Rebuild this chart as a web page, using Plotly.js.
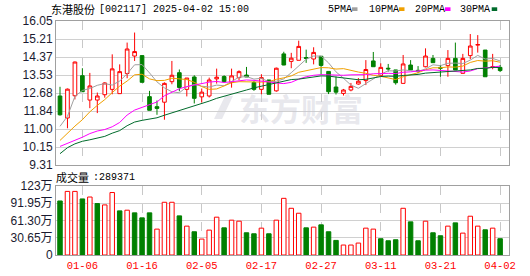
<!DOCTYPE html>
<html>
<head>
<meta charset="utf-8">
<script src="https://cdn.plot.ly/plotly-3.0.1.min.js"></script>
<style>
html,body{margin:0;padding:0;background:#fff;}
#chart{width:530px;height:276px;}
</style>
</head>
<body>
<div id="chart"></div>
<script>
// ---- data ----
const dates = ["12-31","01-02","01-03","01-06","01-07","01-08","01-09","01-10","01-13","01-14",
  "01-15","01-16","01-17","01-20","01-21","01-22","01-23","01-24","01-27","02-05",
  "02-06","02-07","02-10","02-11","02-12","02-13","02-14","02-17","02-18","02-19",
  "02-20","02-21","02-24","02-25","02-26","02-27","02-28","03-03","03-04","03-05",
  "03-06","03-07","03-10","03-11","03-12","03-13","03-14","03-17","03-18","03-19",
  "03-20","03-21","03-24","03-25","03-26","03-27","03-28","03-31","04-01","04-02"];
const tickDates = ["01-06","01-16","02-05","02-17","02-27","03-11","03-21","04-02"];

const open  = [12.54,11.51,12.55,13.49,12.35,12.35,12.60,12.85,12.65,13.59,
  14.41,14.43,12.51,12.04,12.25,13.21,13.63,12.85,13.43,12.50,
  12.54,13.34,13.45,13.17,13.40,13.52,13.17,12.85,13.29,12.78,
  14.51,14.16,14.21,14.34,14.27,14.40,13.69,12.96,12.66,12.82,
  13.10,13.26,14.18,13.49,13.84,13.76,13.13,13.99,13.74,13.91,
  14.30,13.88,13.96,14.30,13.60,14.43,14.92,14.69,13.88,13.88];
const high  = [12.97,12.89,14.15,13.84,13.62,12.70,13.18,14.49,14.02,15.04,
  15.51,14.43,12.78,12.33,13.18,14.18,13.78,13.38,13.51,12.89,
  13.40,13.82,13.51,13.82,13.74,13.90,13.24,13.56,13.29,13.87,
  14.61,14.56,15.13,14.71,14.82,14.40,13.69,13.45,12.87,13.15,
  13.38,14.22,14.60,14.07,14.04,13.76,14.46,14.22,13.94,14.77,
  14.46,13.99,14.69,15.04,14.51,15.44,15.39,14.69,14.51,13.99];
const low   = [11.62,11.03,12.38,12.74,11.97,11.74,12.46,12.62,12.65,13.37,
  14.18,13.18,11.87,11.66,11.43,13.09,12.76,12.52,12.19,12.23,
  12.47,13.12,13.17,12.93,13.28,13.43,12.78,12.62,12.62,12.74,
  13.98,13.84,14.21,14.09,14.02,13.53,12.63,12.61,12.56,12.76,
  13.07,13.05,13.91,13.44,13.68,13.07,13.13,13.76,13.60,13.88,
  14.10,13.44,13.44,13.76,13.60,14.26,14.57,13.44,13.79,13.66];
const close = [11.66,12.86,14.13,12.74,13.01,12.54,13.15,13.81,13.68,14.74,
  14.62,13.18,11.87,11.96,13.13,13.51,12.94,13.38,12.43,12.72,
  13.29,13.42,13.21,13.48,13.68,13.43,12.85,13.40,12.62,13.84,
  13.99,14.31,14.86,14.30,14.58,13.97,12.74,12.72,12.82,12.99,
  13.23,13.78,13.91,13.88,13.81,13.16,14.04,13.76,13.70,14.41,
  14.10,13.84,14.30,13.76,14.30,14.88,14.95,13.44,13.91,13.73];

const ma5  = [11.12,11.59,12.52,12.80,12.89,13.04,13.12,13.05,13.24,13.58,
  14.00,14.01,13.62,13.20,12.92,12.74,12.69,12.97,13.08,13.00,
  12.96,13.05,13.02,13.23,13.42,13.45,13.33,13.37,13.20,13.23,
  13.34,13.63,13.93,14.26,14.41,14.41,14.09,13.67,13.37,13.05,
  12.90,13.11,13.35,13.56,13.72,13.71,13.76,13.73,13.69,13.81,
  14.00,13.96,14.07,14.08,14.06,14.22,14.44,14.27,14.30,14.18];
const ma10 = [10.46,10.80,11.13,11.43,11.80,12.10,12.37,12.70,13.00,13.24,
  13.53,13.56,13.34,13.26,13.27,13.37,13.35,13.31,13.18,12.98,
  12.85,12.87,13.01,13.16,13.21,13.20,13.19,13.19,13.21,13.32,
  13.39,13.48,13.65,13.73,13.82,13.87,13.86,13.80,13.82,13.73,
  13.66,13.60,13.51,13.46,13.39,13.31,13.44,13.54,13.63,13.77,
  13.86,13.86,13.90,13.89,13.94,14.11,14.20,14.17,14.19,14.12];
const ma20 = [10.18,10.32,10.47,10.61,10.78,10.90,10.97,11.10,11.30,11.65,
  11.88,12.01,12.12,12.26,12.55,12.72,12.88,12.98,13.05,13.11,
  13.19,13.22,13.17,13.21,13.24,13.29,13.27,13.25,13.20,13.15,
  13.12,13.18,13.33,13.44,13.51,13.54,13.53,13.49,13.51,13.53,
  13.52,13.54,13.58,13.60,13.60,13.59,13.65,13.67,13.72,13.75,
  13.76,13.73,13.70,13.68,13.66,13.71,13.82,13.85,13.91,13.94];
const ma30 = [9.84,10.12,10.30,10.42,10.49,10.57,10.65,10.80,10.92,11.15,
  11.32,11.40,11.45,11.52,11.64,11.75,11.85,11.95,12.05,12.17,
  12.30,12.43,12.52,12.63,12.72,12.82,12.92,13.00,13.08,13.18,
  13.26,13.31,13.33,13.38,13.43,13.48,13.47,13.43,13.40,13.35,
  13.30,13.32,13.39,13.45,13.47,13.46,13.50,13.51,13.55,13.61,
  13.63,13.65,13.68,13.69,13.71,13.76,13.83,13.83,13.88,13.87];

// volume in 万手
const volume = [96.0,113.0,113.0,99.6,103.0,91.4,89.0,111.0,78.4,79.6,
  74.9,66.0,74.9,46.0,93.7,93.7,69.5,51.3,41.3,28.3,
  44.2,67.2,48.3,61.9,60.1,39.5,37.7,47.7,37.7,61.9,
  100.7,83.0,74.2,48.3,49.5,53.6,41.3,25.9,17.7,17.7,
  21.2,47.7,46.0,28.9,25.3,27.1,83.0,58.9,25.3,60.1,
  39.5,34.2,51.3,57.1,38.9,68.9,51.3,44.8,47.7,28.9371];

const priceTicks = [9.31,10.1525,10.995,11.8375,12.68,13.5225,14.365,15.2075,16.05];
const priceTickText = ["9.31","10.15","11.00","11.84","12.68","13.53","14.37","15.21","16.05"];
const volTicks = [0,30.65,61.30,91.95,122.6];
const volTickText = ["0","30.65万","61.30万","91.95万","123万"];

const stockTitle = "东港股份";
const stockInfo = "[002117]\u00a02025-04-02\u00a015:00";
const volLabel = "成交量";
const volValue = ":289371";
const maNames = ["5PMA","10PMA","20PMA","30PMA"];
const watermark = "东方财富";

// ---- styles ----
const RED = "#ff0000", GREEN = "#008000";
const maColors = ["#a0a0a0","#f0a000","#ff00ff","#006b2b"];
const WM = "rgba(200,200,212,0.42)";
const L = 56, R = 509, T = 21, B = 255;
const W = R - L, H = B - T;
const px = x => (x - L) / W;
const py = y => (B - y) / H;

const volUp = volume.map((v, i) => i === 0 ? close[0] >= open[0] : close[i] >= close[i - 1]);

const traces = [
  {
    type: "candlestick", x: dates, open: open, high: high, low: low, close: close,
    xaxis: "x", yaxis: "y", whiskerwidth: 0,
    increasing: {line: {color: RED, width: 1}, fillcolor: "#ffffff"},
    decreasing: {line: {color: GREEN, width: 1}, fillcolor: GREEN},
    hoverinfo: "skip", showlegend: false
  }
];
[ma5, ma10, ma20, ma30].forEach((m, k) => {
  traces.push({type: "scatter", mode: "lines", x: dates, y: m, xaxis: "x", yaxis: "y",
    line: {color: maColors[k], width: 1}, hoverinfo: "skip", showlegend: false, name: maNames[k]});
});
traces.push({
  type: "bar", x: dates, y: volume, xaxis: "x2", yaxis: "y2",
  marker: {color: volUp.map(u => u ? "#ffffff" : GREEN),
           line: {color: volUp.map(u => u ? RED : GREEN), width: 1}},
  hoverinfo: "skip", showlegend: false
});

const frame = "#a0a0a0";
const xr = [-0.536, 60.19];
const annotations = [
  {text: stockTitle, x: px(97), y: py(9.5), xref: "paper", yref: "paper", xanchor: "right", yanchor: "middle",
   showarrow: false, font: {family: "Noto Sans CJK SC", size: 11, color: "#000"}},
  {text: stockInfo, x: px(97), y: py(9.5), xref: "paper", yref: "paper", xanchor: "left", yanchor: "middle",
   showarrow: false, font: {family: "Liberation Mono", size: 10, color: "#000"}},
  {text: volLabel, x: px(90.5), y: py(177), xref: "paper", yref: "paper", xanchor: "right", yanchor: "middle",
   showarrow: false, font: {family: "Noto Sans CJK SC", size: 11, color: "#000"}},
  {text: volValue, x: px(90.5), y: py(177), xref: "paper", yref: "paper", xanchor: "left", yanchor: "middle",
   showarrow: false, font: {family: "Liberation Mono", size: 10, color: "#000"}},
  {text: "<b>" + watermark + "</b>", x: px(301), y: py(107), xref: "paper", yref: "paper", xanchor: "center", yanchor: "middle",
   showarrow: false, font: {family: "Noto Sans CJK SC", size: 31, color: WM}}
];
const legendX = [325.7, 367, 412.7, 458];
const boxX = [352, 399, 445, 491.7];
const shapes = [];
maNames.forEach((n, k) => {
  annotations.push({text: n, x: px(legendX[k]), y: py(9.5), xref: "paper", yref: "paper",
    xanchor: "left", yanchor: "middle", showarrow: false,
    font: {family: "Liberation Mono", size: 10, color: "#000"}});
  shapes.push({type: "rect", xref: "paper", yref: "paper", x0: px(boxX[k]), x1: px(boxX[k] + 5.5),
    y0: py(11), y1: py(7.3), fillcolor: maColors[k], line: {width: 0}});
});
// watermark logo stroke (below traces)
shapes.push({type: "path", xref: "paper", yref: "paper", layer: "below",
  path: `M ${px(214)} ${py(119)} L ${px(222)} ${py(119)} L ${px(233)} ${py(96)} L ${px(225)} ${py(96)} Z`,
  fillcolor: WM, line: {width: 0}});

const layout = {
  width: 530, height: 276,
  margin: {l: L, r: 530 - R, t: T, b: 276 - B, pad: 0},
  paper_bgcolor: "#ffffff", plot_bgcolor: "#ffffff",
  showlegend: false, dragmode: false,
  xaxis: {type: "category", domain: [0, 1], range: xr, anchor: "y",
    tickvals: tickDates, showticklabels: false, ticks: "",
    showgrid: true, gridcolor: "#c8c8c8", griddash: "dash", gridwidth: 1,
    showline: true, mirror: true, linecolor: frame, linewidth: 1, zeroline: false,
    rangeslider: {visible: false}, fixedrange: true},
  yaxis: {domain: [py(165), 1], range: [9.31, 16.05], anchor: "x",
    tickvals: priceTicks, ticktext: priceTickText, ticks: "",
    tickfont: {family: "Liberation Sans", size: 12, color: "#1a1a30"},
    showgrid: true, gridcolor: "#d0d0d0", gridwidth: 1,
    showline: true, mirror: true, linecolor: frame, linewidth: 1, zeroline: false, fixedrange: true},
  xaxis2: {type: "category", domain: [0, 1], range: xr, anchor: "y2", matches: "x",
    tickvals: tickDates, ticktext: tickDates, ticks: "",
    tickfont: {family: "Liberation Mono", size: 10.5, color: RED},
    showgrid: true, gridcolor: "#c8c8c8", griddash: "dash", gridwidth: 1,
    showline: true, mirror: true, linecolor: frame, linewidth: 1, zeroline: false,
    rangeslider: {visible: false}, fixedrange: true},
  yaxis2: {domain: [0, py(186)], range: [0, 122.6], anchor: "x2",
    tickvals: volTicks, ticktext: volTickText, ticks: "",
    tickfont: {family: "Liberation Sans, Noto Sans CJK SC", size: 12, color: "#1a1a30"},
    showgrid: true, gridcolor: "#d0d0d0", gridwidth: 1,
    showline: true, mirror: true, linecolor: frame, linewidth: 1, zeroline: false, fixedrange: true},
  bargap: 0.4,
  annotations: annotations,
  shapes: shapes
};

Plotly.newPlot("chart", traces, layout, {staticPlot: true, displayModeBar: false});
</script>
</body>
</html>
